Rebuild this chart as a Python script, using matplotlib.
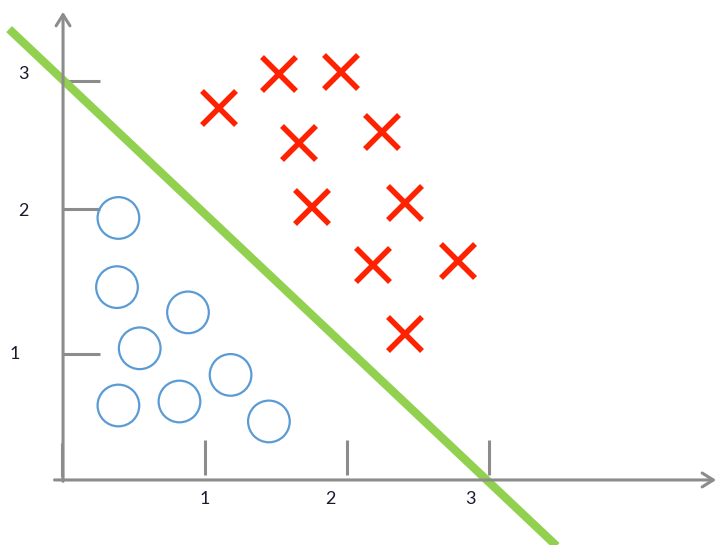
import matplotlib.pyplot as plt
import numpy as np

# data (units of the drawn axes)
circle_x = [0.39, 0.38, 0.88, 0.54, 0.39, 0.82, 1.18, 1.45]
circle_y = [1.97, 1.45, 1.26, 0.99, 0.56, 0.59, 0.79, 0.44]

cross_x = [1.10, 1.52, 1.96, 1.66, 2.25, 1.75, 2.41, 2.18, 2.78, 2.41]
cross_y = [2.80, 3.05, 3.07, 2.53, 2.62, 2.05, 2.08, 1.62, 1.65, 1.10]

line_x = [-0.38, 3.48]
line_y = [3.39, -0.50]

xticks = [1, 2, 3]
yticks = [0.95, 2.04, 3.0]
xtick_labels = ['1', '2', '3']
ytick_labels = ['1', '2', '3']

plt.rcParams['font.family'] = ['Lato', 'DejaVu Sans']

fig = plt.figure(figsize=(7.18, 5.45), dpi=100)
ax = fig.add_axes([0, 0, 1, 1])
ax.set_xlim(-0.444, 4.613)
ax.set_ylim(-0.489, 3.609)
ax.axis('off')

grey = '#8c8c8c'
arrow = dict(arrowstyle='->,head_length=0.8,head_width=0.5', color=grey, lw=2.2,
             shrinkA=0, shrinkB=0)
ax.annotate('', xy=(0, 3.52), xytext=(0, -0.01), arrowprops=arrow)
ax.annotate('', xy=(4.60, 0), xytext=(-0.06, 0), arrowprops=arrow)

# tick marks
for t in xticks:
    ax.plot([t, t], [0.04, 0.30], color=grey, lw=2.2, solid_capstyle='butt')
ax.plot([-0.01, -0.01], [0.02, 0.28], color=grey, lw=2.2, solid_capstyle='butt')
for t in yticks:
    ax.plot([0, 0.26], [t, t], color=grey, lw=2.2, solid_capstyle='butt')

xlab_pos = [1.0, 1.88, 2.87]
for p, s in zip(xlab_pos, xtick_labels):
    ax.text(p, -0.14, s, ha='center', va='center', fontsize=13, color='#1a1a2e')
ylab_pos = [0.95, 2.02, 3.05]
ylab_x = [-0.34, -0.28, -0.28]
for p, px, s in zip(ylab_pos, ylab_x, ytick_labels):
    ax.text(px, p, s, ha='center', va='center', fontsize=13, color='#1a1a2e')

ax.plot(line_x, line_y, color='#92d050', lw=6, solid_capstyle='butt', zorder=2)

ax.scatter(circle_x, circle_y, s=900, facecolors='none', edgecolors='#5b9bd5',
           linewidths=1.6, zorder=3)
ax.plot(cross_x, cross_y, 'x', color='#ff2200', markersize=24,
        markeredgewidth=4, zorder=3)

fig.savefig('out.png', dpi=100)
